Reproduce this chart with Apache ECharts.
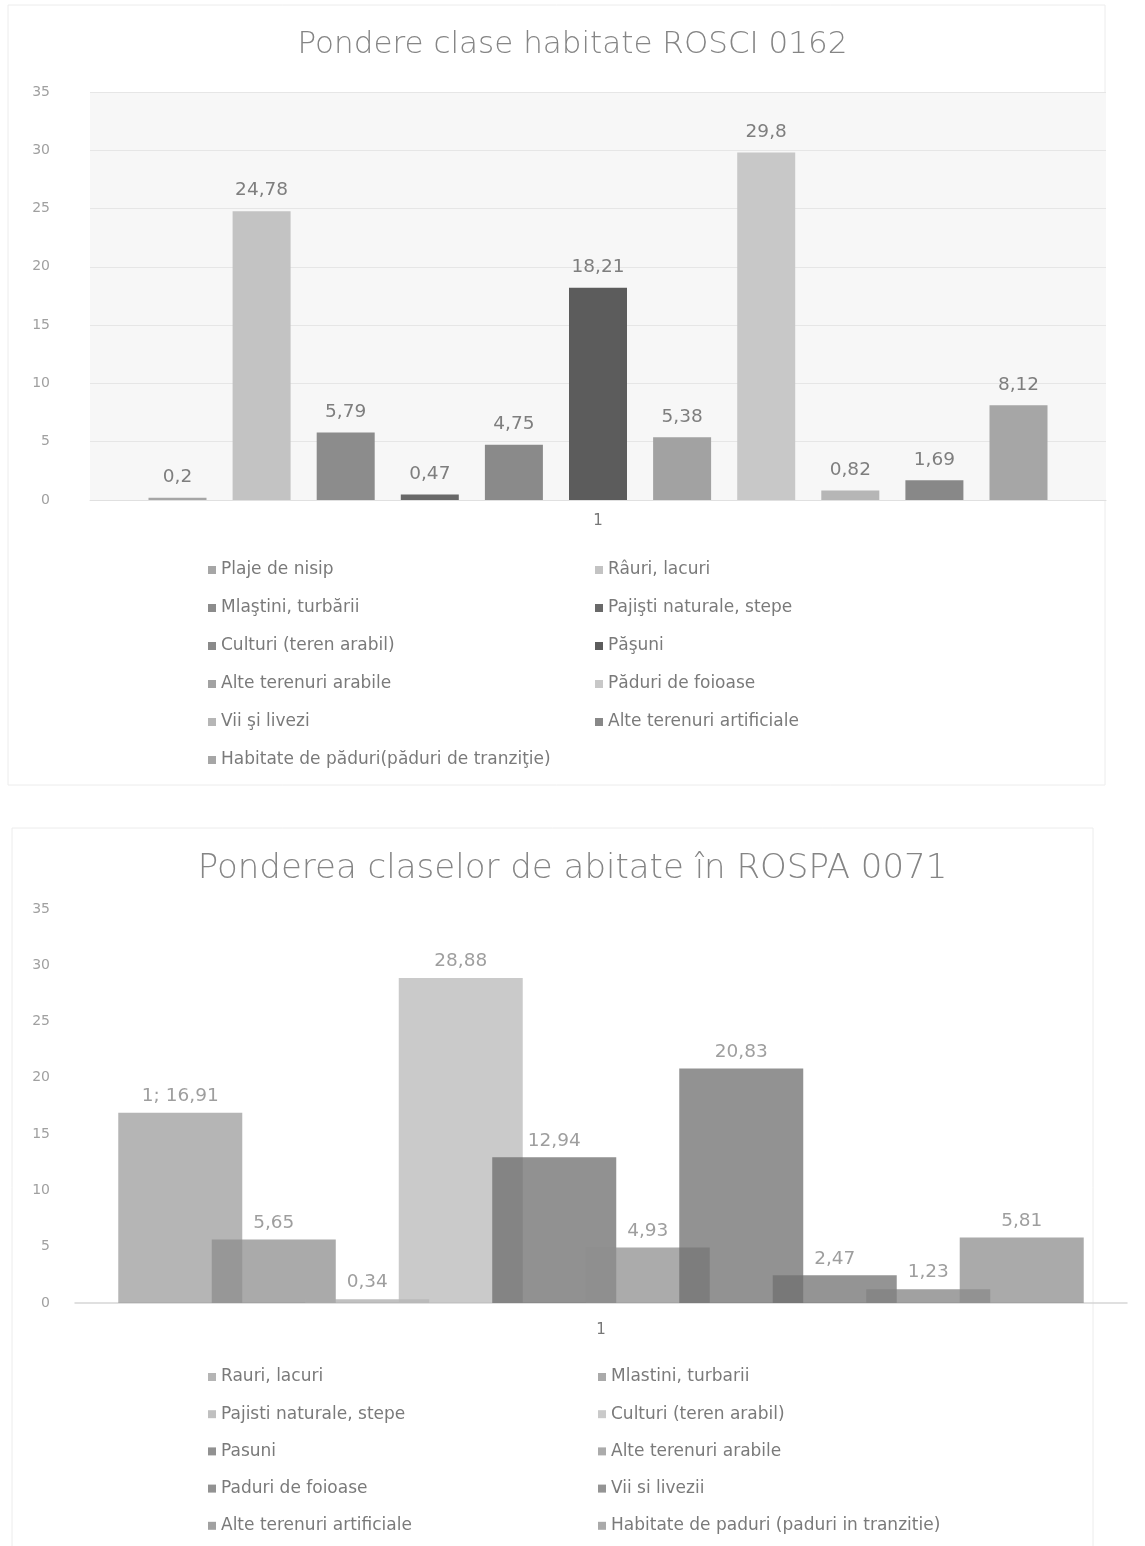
<!DOCTYPE html>
<html>
<head>
<meta charset="utf-8">
<script src="https://cdn.jsdelivr.net/npm/echarts@6/dist/echarts.min.js"></script>
<style>
html,body{margin:0;padding:0;background:#fff;}
#c1{position:absolute;left:0;top:0;width:1145px;height:800px;}
#c2{position:absolute;left:0;top:800px;width:1145px;height:746px;}
</style>
</head>
<body>
<div id="c1"></div>
<div id="c2"></div>
<script>
// ---------- Chart 1 data ----------
const title1 = 'Pondere clase habitate ROSCI 0162';
const categories1 = ['1'];
const names1 = ['Plaje de nisip','Râuri, lacuri','Mlaştini, turbării','Pajişti naturale, stepe','Culturi (teren arabil)','Păşuni','Alte terenuri arabile','Păduri de foioase','Vii şi livezi','Alte terenuri artificiale','Habitate de păduri(păduri de tranziţie)'];
const values1 = [0.2, 24.78, 5.79, 0.47, 4.75, 18.21, 5.38, 29.8, 0.82, 1.69, 8.12];
const yTicks1 = {min: 0, max: 35, interval: 5};

// ---------- Chart 2 data ----------
const title2 = 'Ponderea claselor de abitate în ROSPA 0071';
const categories2 = ['1'];
const names2 = ['Rauri, lacuri','Mlastini, turbarii','Pajisti naturale, stepe','Culturi (teren arabil)','Pasuni','Alte terenuri arabile','Paduri de foioase','Vii si livezii','Alte terenuri artificiale','Habitate de paduri (paduri in tranzitie)'];
const values2 = [16.91, 5.65, 0.34, 28.88, 12.94, 4.93, 20.83, 2.47, 1.23, 5.81];
const yTicks2 = {min: 0, max: 35, interval: 5};

// ---------- styles ----------
const colors1 = ['#a6a6a6','#c3c3c3','#8c8c8c','#696969','#8a8a8a','#5c5c5c','#a2a2a2','#c8c8c8','#b6b6b6','#888888','#a6a6a6'];
const colors2 = ['#9c9c9c','#8e8e8e','#ababab','#b8b8b8','#6c6c6c','#8f8f8f','#6e6e6e','#707070','#828282','#8e8e8e'];
const FONT = '"DejaVu Sans", "Open Sans", sans-serif';
const fmt = v => String(v).replace('.', ',');

function legendCols(names, leftX, rightX, top, gap) {
  const l = names.filter((n, i) => i % 2 === 0);
  const r = names.filter((n, i) => i % 2 === 1);
  const base = {
    orient: 'vertical', top: top, itemWidth: 8, itemHeight: 8, itemGap: gap,
    icon: 'rect', selectedMode: false,
    textStyle: {color: '#7a7a7a', fontSize: 17, fontFamily: FONT, lineHeight: 18}
  };
  return [Object.assign({}, base, {left: leftX, data: l}), Object.assign({}, base, {left: rightX, data: r})];
}

// ---------- Chart 1 ----------
const ch1 = echarts.init(document.getElementById('c1'), null, {renderer: 'canvas'});
ch1.setOption({
  animation: false,
  textStyle: {fontFamily: FONT},
  title: {text: title1, left: 'center', top: 24, textStyle: {color: '#858585', fontSize: 31, fontWeight: 200, fontFamily: FONT}},
  graphic: [{type: 'rect', shape: {x: 8, y: 5, width: 1097, height: 780}, style: {fill: 'none', stroke: '#ececec', lineWidth: 1}, z: -1}],
  grid: {left: 90, right: 39, top: 92, bottom: 300, show: true, backgroundColor: '#f7f7f7', borderWidth: 0},
  legend: legendCols(names1, 203, 590, 556, 20),
  xAxis: {type: 'category', data: categories1, axisTick: {show: false},
    axisLine: {show: true, lineStyle: {color: '#e0e0e0'}},
    axisLabel: {color: '#777', fontSize: 15, margin: 14, fontFamily: FONT}},
  yAxis: {type: 'value', min: yTicks1.min, max: yTicks1.max, interval: yTicks1.interval,
    axisLine: {show: false}, axisTick: {show: false},
    splitLine: {lineStyle: {color: '#e6e6e6'}},
    axisLabel: {color: '#a0a0a0', fontSize: 14, margin: 40, fontFamily: FONT}},
  series: names1.map((n, i) => ({
    name: n, type: 'bar', data: [values1[i]], barWidth: 58, barGap: '45%',
    itemStyle: {color: colors1[i]},
    label: {show: true, position: 'top', distance: 11, color: '#7e7e7e', fontSize: 18.5, fontFamily: FONT,
      formatter: p => fmt(p.value)}
  }))
});

// ---------- Chart 2 ----------
const ch2 = echarts.init(document.getElementById('c2'), null, {renderer: 'canvas'});
ch2.setOption({
  animation: false,
  textStyle: {fontFamily: FONT},
  title: {text: title2, left: 'center', top: 47, textStyle: {color: '#858585', fontSize: 34, fontWeight: 200, fontFamily: FONT}},
  graphic: [{type: 'rect', shape: {x: 12, y: 28, width: 1081, height: 730}, style: {fill: 'none', stroke: '#ececec', lineWidth: 1}, z: -1}],
  grid: {left: 75, right: 18, top: 109, bottom: 243},
  legend: legendCols(names2, 203, 593, 563, 19.2),
  xAxis: {type: 'category', data: categories2, axisTick: {show: false},
    axisLine: {show: true, lineStyle: {color: '#d6d6d6', width: 1.5}},
    axisLabel: {color: '#777', fontSize: 15, margin: 20, fontFamily: FONT}},
  yAxis: {type: 'value', min: yTicks2.min, max: yTicks2.max, interval: yTicks2.interval,
    axisLine: {show: false}, axisTick: {show: false},
    splitLine: {show: false},
    axisLabel: {color: '#a0a0a0', fontSize: 14, margin: 25, fontFamily: FONT}},
  series: names2.map((n, i) => ({
    name: n, type: 'bar', data: [values2[i]], barWidth: 124, barGap: '-24.6%',
    itemStyle: {color: colors2[i], opacity: 0.75},
    label: {show: true, position: 'top', distance: 7, color: '#7e7e7e', fontSize: 18.5, fontFamily: FONT,
      formatter: p => (i === 0 ? p.name + '; ' : '') + fmt(p.value)}
  }))
});
</script>
</body>
</html>
